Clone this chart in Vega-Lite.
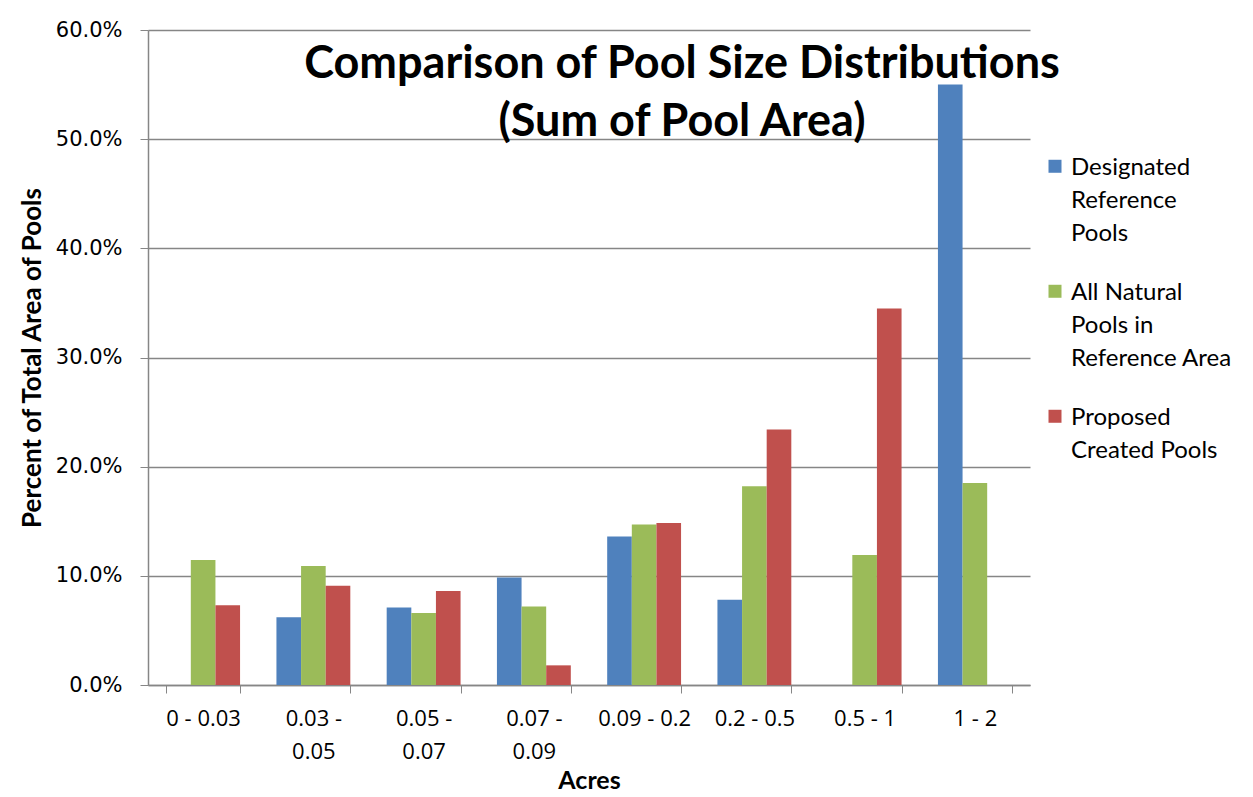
{
  "$schema": "https://vega.github.io/schema/vega-lite/v6.json",
  "width": 882,
  "height": 655,
  "autosize": {"type": "none"},
  "padding": {"left": 148, "top": 30, "right": 223, "bottom": 112},
  "background": "white",
  "title": {
    "text": ["Comparison of Pool Size Distributions", "(Sum of Pool Area)"],
    "anchor": "middle",
    "frame": "group",
    "dx": 93,
    "baseline": "bottom",
    "offset": -171,
    "font": "Lato",
    "fontSize": 45,
    "fontWeight": "bold",
    "lineHeight": 58,
    "color": "black"
  },
  "data": {
    "values": [
      {"range": "0 - 0.03", "series": "All Natural Pools in Reference Area", "value": 0.1145},
      {"range": "0 - 0.03", "series": "Proposed Created Pools", "value": 0.073},
      {"range": "0.03 - 0.05", "series": "Designated Reference Pools", "value": 0.062},
      {"range": "0.03 - 0.05", "series": "All Natural Pools in Reference Area", "value": 0.109},
      {"range": "0.03 - 0.05", "series": "Proposed Created Pools", "value": 0.091},
      {"range": "0.05 - 0.07", "series": "Designated Reference Pools", "value": 0.071},
      {"range": "0.05 - 0.07", "series": "All Natural Pools in Reference Area", "value": 0.066},
      {"range": "0.05 - 0.07", "series": "Proposed Created Pools", "value": 0.086},
      {"range": "0.07 - 0.09", "series": "Designated Reference Pools", "value": 0.0985},
      {"range": "0.07 - 0.09", "series": "All Natural Pools in Reference Area", "value": 0.072},
      {"range": "0.07 - 0.09", "series": "Proposed Created Pools", "value": 0.018},
      {"range": "0.09 - 0.2", "series": "Designated Reference Pools", "value": 0.136},
      {"range": "0.09 - 0.2", "series": "All Natural Pools in Reference Area", "value": 0.147},
      {"range": "0.09 - 0.2", "series": "Proposed Created Pools", "value": 0.1485},
      {"range": "0.2 - 0.5", "series": "Designated Reference Pools", "value": 0.078},
      {"range": "0.2 - 0.5", "series": "All Natural Pools in Reference Area", "value": 0.182},
      {"range": "0.2 - 0.5", "series": "Proposed Created Pools", "value": 0.234},
      {"range": "0.5 - 1", "series": "All Natural Pools in Reference Area", "value": 0.119},
      {"range": "0.5 - 1", "series": "Proposed Created Pools", "value": 0.345},
      {"range": "1 - 2", "series": "Designated Reference Pools", "value": 0.55},
      {"range": "1 - 2", "series": "All Natural Pools in Reference Area", "value": 0.185}
    ]
  },
  "mark": {"type": "bar"},
  "encoding": {
    "x": {
      "field": "range",
      "type": "nominal",
      "sort": ["0 - 0.03", "0.03 - 0.05", "0.05 - 0.07", "0.07 - 0.09", "0.09 - 0.2", "0.2 - 0.5", "0.5 - 1", "1 - 2"],
      "scale": {"paddingInner": 0.33, "paddingOuter": 0.165},
      "title": "Acres",
      "axis": {
        "labelAngle": 0,
        "tickBand": "extent",
        "tickSize": 8,
        "tickColor": "#868686",
        "domainColor": "#868686",
        "domainWidth": 1.5,
        "labelFont": "Open Sans",
        "labelFontSize": 22,
        "labelColor": "black",
        "labelLineHeight": 33,
        "labelPadding": 15,
        "labelExpr": "indexof(['0.03 - 0.05','0.05 - 0.07','0.07 - 0.09'], datum.value) >= 0 ? [split(datum.value, ' - ')[0] + ' -', split(datum.value, ' - ')[1]] : datum.value",
        "titleFont": "Lato",
        "titleFontSize": 25,
        "titleFontWeight": "bold",
        "titleColor": "black",
        "titlePadding": 6
      }
    },
    "xOffset": {
      "field": "series",
      "sort": ["Designated Reference Pools", "All Natural Pools in Reference Area", "Proposed Created Pools"]
    },
    "y": {
      "field": "value",
      "type": "quantitative",
      "scale": {"domain": [0, 0.6]},
      "title": "Percent of Total Area of Pools",
      "axis": {
        "values": [0, 0.1, 0.2, 0.3, 0.4, 0.5, 0.6],
        "format": ".1%",
        "grid": true,
        "gridColor": "#868686",
        "gridWidth": 1.5,
        "tickSize": 8,
        "tickColor": "#868686",
        "domainColor": "#868686",
        "domainWidth": 1.5,
        "labelFont": "DejaVu Sans",
        "labelFontSize": 21,
        "labelColor": "black",
        "labelPadding": 18,
        "titleFont": "Lato",
        "titleFontSize": 26,
        "titleFontWeight": "bold",
        "titleColor": "black",
        "titlePadding": 10
      }
    },
    "color": {
      "field": "series",
      "type": "nominal",
      "scale": {
        "domain": ["Designated Reference Pools", "All Natural Pools in Reference Area", "Proposed Created Pools"],
        "range": ["#4F81BD", "#9BBB59", "#C0504D"]
      },
      "legend": {
        "title": null,
        "orient": "none",
        "legendX": 895,
        "legendY": 114,
        "symbolType": "M-1,0.58H1V2.58H-1Z",
        "symbolSize": 169,
        "symbolStrokeWidth": 0,
        "labelFont": "Lato",
        "labelFontSize": 24,
        "labelColor": "black",
        "labelBaseline": "top",
        "labelOffset": 4,
        "labelLimit": 300,
        "rowPadding": 23,
        "labelExpr": "datum.label == 'Designated Reference Pools' ? ['Designated', 'Reference', 'Pools'] : datum.label == 'All Natural Pools in Reference Area' ? ['All Natural', 'Pools in', 'Reference Area'] : ['Proposed', 'Created Pools']"
      }
    }
  },
  "config": {
    "view": {"stroke": null},
    "style": {"guide-label": {"lineHeight": 33}}
  }
}
